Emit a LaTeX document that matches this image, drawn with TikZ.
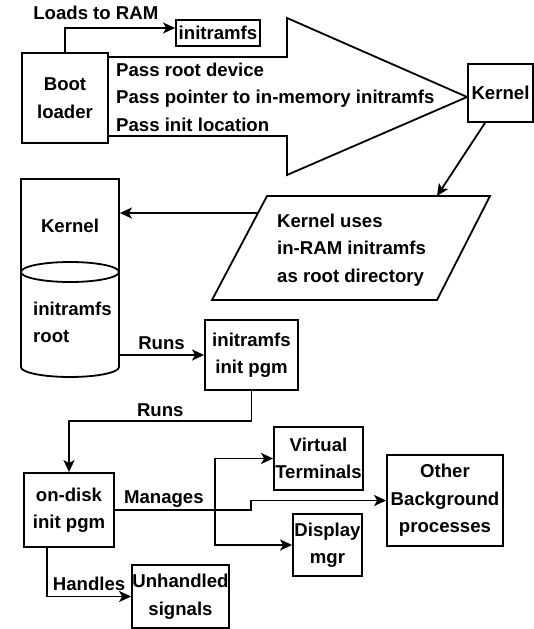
\documentclass[tikz,border=0pt]{standalone}
\usepackage{fontspec}
\setmainfont{Liberation Sans}
\usetikzlibrary{positioning,arrows.meta,calc}

\begin{document}
\begin{tikzpicture}[
    x=1pt, y=1pt,
    every node/.style={font=\bfseries\fontsize{18.6}{27.5}\selectfont},
    box/.style={rectangle,draw,fill=white,line width=1.8pt,inner sep=0pt,align=center},
    shapeline/.style={line width=1.8pt,line join=miter},
    arrow/.style={-{Stealth[length=12pt,width=11pt,inset=3pt]},line width=1.8pt},
    tag/.style={inner sep=0pt}
  ]
    \useasboundingbox[fill=white] (0,0) rectangle (534,-629);

    % boot loader and the big arrow to the kernel
    \node[box,minimum width=86,minimum height=90] (boot) at (65,-98) {Boot\\loader};
    \node[box,minimum width=84,minimum height=26] (initrd) at (218,-33) {initramfs};
    \node[box,minimum width=65,minimum height=58] (kernel) at (500.5,-93) {Kernel};
    \draw[shapeline] (boot.east |- 0,-57) -- (287,-57) -- (287,-18) -- ([yshift=-4pt]kernel.west)
        -- (287,-175) -- (287,-136) -- (boot.east |- 0,-136);
    \node[tag,anchor=west,align=left] (passinfo) at (116,-97)
        {Pass root device\\Pass pointer to in-memory initramfs\\Pass init location};

    % parallelogram
    \coordinate (pbl) at (212,-300);
    \coordinate (pbr) at (437,-300);
    \coordinate (ptr) at (490,-196);
    \coordinate (ptl) at (267,-196);
    \draw[shapeline] (pbl) -- (pbr) -- (ptr) -- (ptl) -- cycle;
    \node[tag,anchor=west,align=left] (rootdir) at (277,-250)
        {Kernel uses\\in-RAM initramfs\\as root directory};
    \coordinate (pin) at (437,-196);
    \coordinate (pout) at ($(pbl)!0.8365!(ptl)$);

    % kernel over the initramfs cylinder
    \node[box,minimum width=98,minimum height=93] (ramkernel) at (70,-225.5) {Kernel};
    \draw[shapeline,fill=white] (21,-272) -- (21,-367)
        arc[start angle=180,end angle=360,x radius=49,y radius=10] -- (119,-272);
    \draw[shapeline,fill=white] (70,-272) ellipse[x radius=49,y radius=10];
    \node[tag,anchor=west,align=left] (ramroot) at (33,-322.5) {initramfs\\root};
    \coordinate (cylE) at (119,-355);

    \node[box,minimum width=93,minimum height=70] (initpgm) at (251.5,-355) {initramfs\\init pgm};

    % on-disk init and what it looks after
    \node[box,minimum width=90,minimum height=74] (ondisk) at (69,-510) {on-disk\\init pgm};
    \node[box,minimum width=89,minimum height=63] (vterm) at (318.5,-458.5) {Virtual\\Terminals};
    \node[box,minimum width=116,minimum height=91] (other) at (445,-500.5) {Other\\Background\\processes};
    \node[box,minimum width=69,minimum height=62] (dispmgr) at (327.5,-545) {Display\\mgr};
    \node[box,minimum width=97,minimum height=63] (unhandled) at (180.5,-596.5) {Unhandled\\signals};

    \draw[arrow] (boot.north) |- node[tag,pos=0.64,above=7.5pt]{Loads to RAM} ([yshift=5pt]initrd.west);
    \draw[arrow] ([xshift=-15.5pt]kernel.south) -- (pin);
    \draw[arrow] (pout) -- (pout -| ramkernel.east);
    \draw[arrow] (cylE) -- node[tag,above=4pt]{Runs} (initpgm.west);
    \draw[arrow] (initpgm.south) -- ++(0,-30) -| node[tag,pos=0.25,above=3pt]{Runs} (ondisk.north);
    \draw[arrow] (ondisk.east) -- node[tag,pos=0.36,above=2pt]{Manages} ++(136,0) coordinate (jog)
        |- (other.west);
    \coordinate (mj) at (215,-510);
    \draw[arrow] (mj) |- (vterm.west);
    \draw[arrow] (mj) |- (dispmgr.west);
    \draw[arrow] ([xshift=-22pt]ondisk.south) |- node[tag,pos=0.75,above=5pt]{Handles} (unhandled.west);
  \end{tikzpicture}
\end{document}
